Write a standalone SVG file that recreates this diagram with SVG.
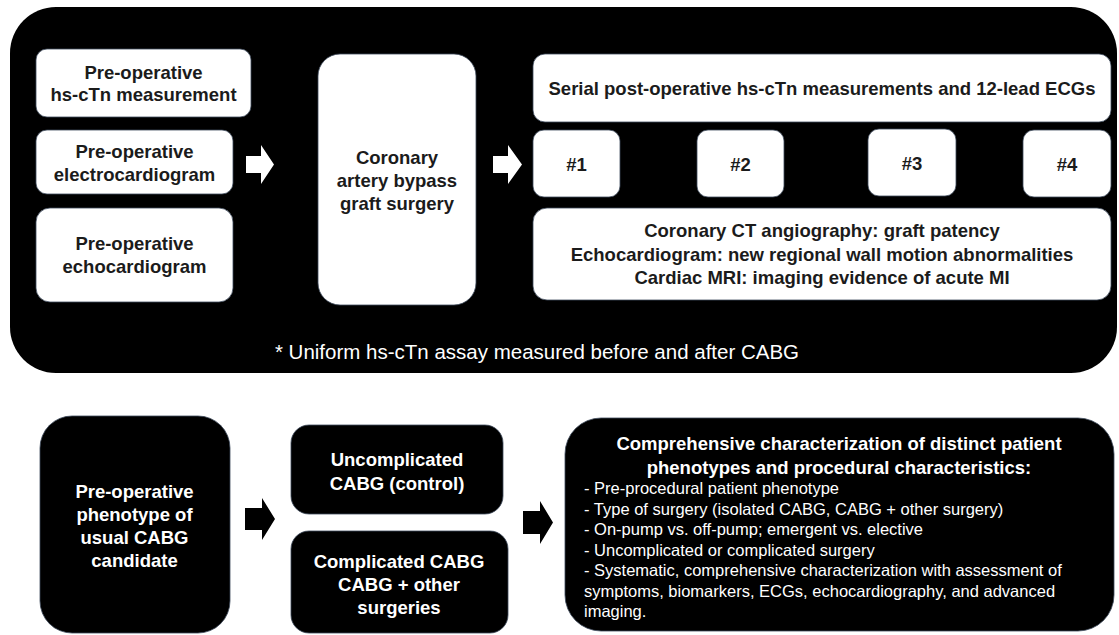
<svg xmlns="http://www.w3.org/2000/svg" width="1119" height="635" viewBox="0 0 1119 635">
<style>
text{font-family:"Liberation Sans",Arial,sans-serif;}
.b{font-weight:bold;font-size:18.5px;text-anchor:middle;}
.dk{fill:#1b1b1b;}
.wt{fill:#ffffff;}
.wbox{fill:#ffffff;stroke:#3d4a5c;stroke-width:0.8;}
.kbox{fill:#000000;stroke:#3d4a5c;stroke-width:0.8;}
.foot{font-size:20.5px;fill:#ffffff;text-anchor:middle;}
.li{font-size:16.5px;fill:#ffffff;}
</style>
<rect width="1119" height="635" fill="#ffffff"/>
<g id="panel-top">
<rect x="10" y="7" width="1107" height="366" rx="46" fill="#000000"/>
</g>
<g id="pre-hs-ctn">
<rect class="wbox" x="36" y="49" width="215" height="68" rx="11"/>
<text class="b dk" x="143.5" y="79">Pre-operative</text>
<text class="b dk" x="143.5" y="101">hs-cTn measurement</text>
</g>
<g id="pre-ecg">
<rect class="wbox" x="36" y="130" width="197" height="64" rx="11"/>
<text class="b dk" x="134.5" y="158">Pre-operative</text>
<text class="b dk" x="134.5" y="181">electrocardiogram</text>
</g>
<g id="pre-echo">
<rect class="wbox" x="36" y="208" width="197" height="94" rx="14"/>
<text class="b dk" x="134.5" y="249.5">Pre-operative</text>
<text class="b dk" x="134.5" y="272.5">echocardiogram</text>
</g>
<g id="cabg">
<rect class="wbox" x="318" y="54" width="158" height="251" rx="22"/>
<text class="b dk" x="397" y="163.5">Coronary</text>
<text class="b dk" x="397" y="186.5">artery bypass</text>
<text class="b dk" x="397" y="209.5">graft surgery</text>
</g>
<g id="serial">
<rect class="wbox" x="533" y="54" width="578" height="68" rx="12"/>
<text class="b dk" x="822" y="94.5">Serial post-operative hs-cTn measurements and 12-lead ECGs</text>
</g>
<g id="t1">
<rect class="wbox" x="533" y="130" width="87" height="67" rx="11"/>
<text class="b dk" x="576.5" y="170.5">#1</text>
</g>
<g id="t2">
<rect class="wbox" x="697" y="130" width="87" height="67" rx="11"/>
<text class="b dk" x="740.5" y="170.5">#2</text>
</g>
<g id="t3">
<rect class="wbox" x="868" y="129" width="88" height="67" rx="11"/>
<text class="b dk" x="912" y="169.5">#3</text>
</g>
<g id="t4">
<rect class="wbox" x="1023" y="130" width="88" height="67" rx="11"/>
<text class="b dk" x="1067" y="170.5">#4</text>
</g>
<g id="imaging">
<rect class="wbox" x="533" y="208" width="578" height="92" rx="14"/>
<text class="b dk" x="822" y="236.5">Coronary CT angiography: graft patency</text>
<text class="b dk" x="822" y="260.5">Echocardiogram: new regional wall motion abnormalities</text>
<text class="b dk" x="822" y="283.5">Cardiac MRI: imaging evidence of acute MI</text>
</g>
<g id="footnote">
<text class="foot" x="537" y="359">* Uniform hs-cTn assay measured before and after CABG</text>
</g>
<g id="phenotype">
<rect class="kbox" x="40" y="416" width="190" height="217" rx="32"/>
<text class="b wt" x="134.5" y="497.5">Pre-operative</text>
<text class="b wt" x="134.5" y="520.5">phenotype of</text>
<text class="b wt" x="134.5" y="543.5">usual CABG</text>
<text class="b wt" x="134.5" y="567">candidate</text>
</g>
<g id="uncomplicated">
<rect class="kbox" x="291" y="425" width="212" height="89" rx="18"/>
<text class="b wt" x="397" y="465.5">Uncomplicated</text>
<text class="b wt" x="397" y="489.5">CABG (control)</text>
</g>
<g id="complicated">
<rect class="kbox" x="291" y="531" width="217" height="102" rx="18"/>
<text class="b wt" x="399" y="567.5">Complicated CABG</text>
<text class="b wt" x="399" y="590.5">CABG + other</text>
<text class="b wt" x="399" y="613.5">surgeries</text>
</g>
<g id="characterization">
<rect class="kbox" x="565" y="418" width="549" height="213" rx="36"/>
<text class="b wt" x="839" y="449.5">Comprehensive characterization of distinct patient</text>
<text class="b wt" x="839" y="473.5">phenotypes and procedural characteristics:</text>
<text class="li" x="584" y="494">- Pre-procedural patient phenotype</text>
<text class="li" x="584" y="514.5">- Type of surgery (isolated CABG, CABG + other surgery)</text>
<text class="li" x="584" y="535">- On-pump vs. off-pump; emergent vs. elective</text>
<text class="li" x="584" y="555.5">- Uncomplicated or complicated surgery</text>
<text class="li" x="584" y="576">- Systematic, comprehensive characterization with assessment of</text>
<text class="li" x="584" y="596.5">symptoms, biomarkers, ECGs, echocardiography, and advanced</text>
<text class="li" x="584" y="617">imaging.</text>
</g>
<g id="connectors">
<polygon fill="#ffffff" points="246,156 261,156 261,145 274,164.5 261,184 261,173 246,173"/>
<polygon fill="#ffffff" points="493,156 508,156 508,145 522,164.5 508,184 508,173 493,173"/>
<polygon fill="#000000" points="245,508 262,508 262,498 275,519 262,540 262,530 245,530"/>
<polygon fill="#000000" points="523,511 540,511 540,501 553,522.5 540,544 540,534 523,534"/>
</g>
</svg>
